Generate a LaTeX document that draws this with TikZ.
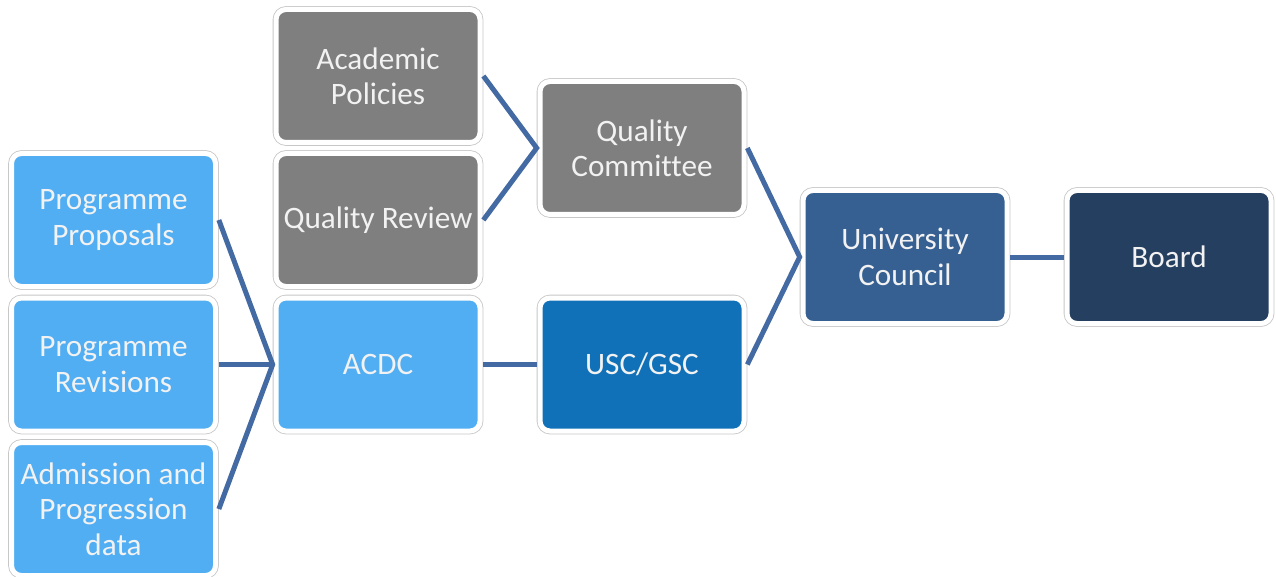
\documentclass[tikz,border=0pt]{standalone}
\usepackage{fontspec}
\setmainfont[Ligatures=NoCommon]{Carlito}
\usepackage{tikz}

\definecolor{lightblue}{RGB}{82,174,242}
\definecolor{midgray}{RGB}{127,127,127}
\definecolor{uscblue}{RGB}{16,113,184}
\definecolor{councilblue}{RGB}{54,96,146}
\definecolor{boardblue}{RGB}{37,63,96}
\definecolor{linkblue}{RGB}{67,106,162}

\tikzset{
  unit/.style={rectangle, rounded corners=7.5pt, fill=#1, draw=white, line width=3.75pt,
    preaction={draw=black!22, line width=5pt},
    minimum width=153pt, minimum height=99.75pt, outer sep=2.5pt, inner sep=0pt,
    align=center, text=white!95!black, font=\fontsize{23.4}{26.5}\selectfont},
  link/.style={draw=linkblue, line width=3.75pt}
}

\begin{document}
\begin{tikzpicture}[x=0.75pt,y=0.75pt,yscale=-1,xscale=1]
\useasboundingbox (0,0) rectangle (1276,577);

% Feeder units
\node [unit=lightblue] (pp) at (113.5,220) {Programme\\Proposals};
\node [unit=lightblue] (pr) at (113.5,364.5) {Programme\\Revisions};
\node [unit=lightblue] (adm) at (113.5,509) {Admission and\\Progression\\data};

% Middle column
\node [unit=midgray] (ap) at (378,76) {Academic\\Policies};
\node [unit=midgray] (qr) at (378,220) {Quality Review};
\node [unit=lightblue] (acdc) at (378,364.5) {ACDC};

% Committees
\node [unit=midgray] (qc) at (642,148) {Quality\\Committee};
\node [unit=uscblue] (usc) at (642,364.5) {USC/GSC};

% Top
\node [unit=councilblue] (uc) at (905,257) {University\\Council};
\node [unit=boardblue] (board) at (1169,257) {Board};

% Links
\draw [link] (pp.east) -- (acdc.west) -- (adm.east);
\draw [link] (pr.east) -- (acdc.west);
\draw [link] (ap.east) -- (qc.west) -- (qr.east);
\draw [link] (acdc.east) -- (usc.west);
\draw [link] (qc.east) -- (uc.west) -- (usc.east);
\draw [link] (uc.east) -- (board.west);

\end{tikzpicture}
\end{document}
